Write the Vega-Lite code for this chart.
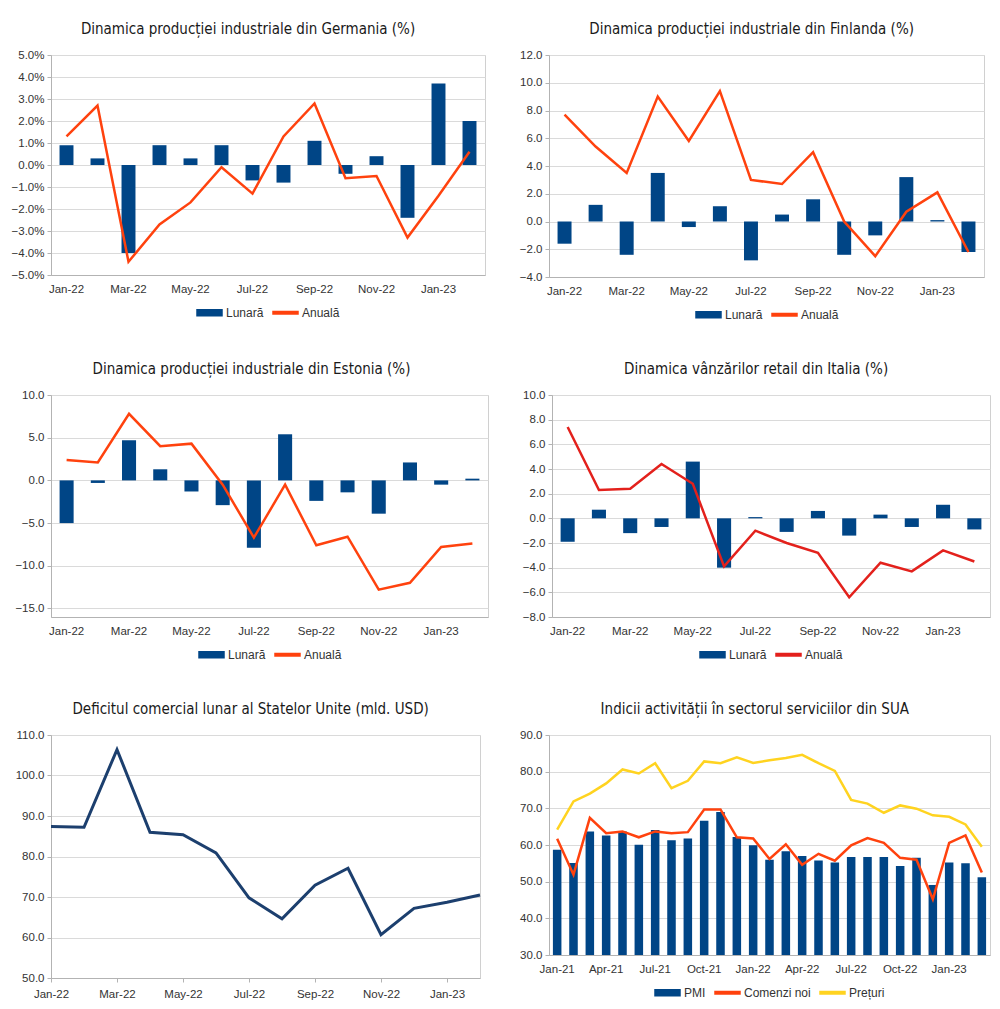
{
  "$schema": "https://vega.github.io/schema/vega-lite/v6.json",
  "padding": {"left": 10, "top": 21, "right": 5, "bottom": 5},
  "background": "white",
  "config": {
    "font": "Liberation Sans",
    "view": {"stroke": "#d0d0d0"},
    "axis": {"labelFont": "Liberation Sans", "labelFontSize": 11.5, "labelColor": "#333333", "gridColor": "#dadada", "domainColor": "#b3b3b3", "tickColor": "#b3b3b3", "title": null, "labelOverlap": false},
    "axisX": {"grid": false, "ticks": false, "labelAngle": 0, "labelPadding": 8},
    "axisY": {"tickSize": 4, "labelPadding": 3},
    "title": {"font": "DejaVu Sans Condensed", "fontSize": 15, "fontWeight": "normal", "color": "#1a1a1a", "frame": "bounds", "offset": 12},
    "legend": {"orient": "bottom", "direction": "horizontal", "title": null, "labelFont": "Liberation Sans", "labelFontSize": 12, "labelColor": "#333333", "symbolSize": 625, "symbolType": "M-1,-0.24L1,-0.24L1,0.24L-1,0.24Z", "labelOffset": 3, "columnPadding": 6, "offset": 4, "layout": {"bottom": {"anchor": "middle"}}}
  },
  "datasets": {
    "ger": [
      {"luna": "Jan-22", "lunara": 0.9, "anuala": 1.3},
      {"luna": "Feb-22", "lunara": 0.3, "anuala": 2.7},
      {"luna": "Mar-22", "lunara": -4.0, "anuala": -4.4},
      {"luna": "Apr-22", "lunara": 0.9, "anuala": -2.7},
      {"luna": "May-22", "lunara": 0.3, "anuala": -1.7},
      {"luna": "Jun-22", "lunara": 0.9, "anuala": -0.1},
      {"luna": "Jul-22", "lunara": -0.7, "anuala": -1.3},
      {"luna": "Aug-22", "lunara": -0.8, "anuala": 1.3},
      {"luna": "Sep-22", "lunara": 1.1, "anuala": 2.8},
      {"luna": "Oct-22", "lunara": -0.4, "anuala": -0.6},
      {"luna": "Nov-22", "lunara": 0.4, "anuala": -0.5},
      {"luna": "Dec-22", "lunara": -2.4, "anuala": -3.3},
      {"luna": "Jan-23", "lunara": 3.7, "anuala": -1.4},
      {"luna": "Feb-23", "lunara": 2.0, "anuala": 0.6}
    ],
    "fin": [
      {"luna": "Jan-22", "lunara": -1.6, "anuala": 7.7},
      {"luna": "Feb-22", "lunara": 1.2, "anuala": 5.4},
      {"luna": "Mar-22", "lunara": -2.4, "anuala": 3.5},
      {"luna": "Apr-22", "lunara": 3.5, "anuala": 9.0},
      {"luna": "May-22", "lunara": -0.4, "anuala": 5.8},
      {"luna": "Jun-22", "lunara": 1.1, "anuala": 9.4},
      {"luna": "Jul-22", "lunara": -2.8, "anuala": 3.0},
      {"luna": "Aug-22", "lunara": 0.5, "anuala": 2.7},
      {"luna": "Sep-22", "lunara": 1.6, "anuala": 5.0},
      {"luna": "Oct-22", "lunara": -2.4, "anuala": 0.0},
      {"luna": "Nov-22", "lunara": -1.0, "anuala": -2.5},
      {"luna": "Dec-22", "lunara": 3.2, "anuala": 0.7},
      {"luna": "Jan-23", "lunara": 0.1, "anuala": 2.1},
      {"luna": "Feb-23", "lunara": -2.2, "anuala": -2.2}
    ],
    "est": [
      {"luna": "Jan-22", "lunara": -5.0, "anuala": 2.4},
      {"luna": "Feb-22", "lunara": -0.3, "anuala": 2.1},
      {"luna": "Mar-22", "lunara": 4.7, "anuala": 7.8},
      {"luna": "Apr-22", "lunara": 1.3, "anuala": 4.0},
      {"luna": "May-22", "lunara": -1.3, "anuala": 4.3},
      {"luna": "Jun-22", "lunara": -2.9, "anuala": -0.5},
      {"luna": "Jul-22", "lunara": -7.9, "anuala": -6.7},
      {"luna": "Aug-22", "lunara": 5.4, "anuala": -0.5},
      {"luna": "Sep-22", "lunara": -2.4, "anuala": -7.6},
      {"luna": "Oct-22", "lunara": -1.4, "anuala": -6.6},
      {"luna": "Nov-22", "lunara": -3.9, "anuala": -12.8},
      {"luna": "Dec-22", "lunara": 2.1, "anuala": -12.0},
      {"luna": "Jan-23", "lunara": -0.5, "anuala": -7.8},
      {"luna": "Feb-23", "lunara": 0.2, "anuala": -7.4}
    ],
    "ita": [
      {"luna": "Jan-22", "lunara": -1.9, "anuala": 7.4},
      {"luna": "Feb-22", "lunara": 0.7, "anuala": 2.3},
      {"luna": "Mar-22", "lunara": -1.2, "anuala": 2.4},
      {"luna": "Apr-22", "lunara": -0.7, "anuala": 4.4},
      {"luna": "May-22", "lunara": 4.6, "anuala": 2.8},
      {"luna": "Jun-22", "lunara": -4.0, "anuala": -3.9},
      {"luna": "Jul-22", "lunara": 0.1, "anuala": -1.0},
      {"luna": "Aug-22", "lunara": -1.1, "anuala": -2.0},
      {"luna": "Sep-22", "lunara": 0.6, "anuala": -2.8},
      {"luna": "Oct-22", "lunara": -1.4, "anuala": -6.4},
      {"luna": "Nov-22", "lunara": 0.3, "anuala": -3.6},
      {"luna": "Dec-22", "lunara": -0.7, "anuala": -4.3},
      {"luna": "Jan-23", "lunara": 1.1, "anuala": -2.6},
      {"luna": "Feb-23", "lunara": -0.9, "anuala": -3.5}
    ],
    "usa": [
      {"luna": "Jan-22", "deficit": 87.4},
      {"luna": "Feb-22", "deficit": 87.2},
      {"luna": "Mar-22", "deficit": 106.4},
      {"luna": "Apr-22", "deficit": 86.0},
      {"luna": "May-22", "deficit": 85.4},
      {"luna": "Jun-22", "deficit": 80.9},
      {"luna": "Jul-22", "deficit": 69.8},
      {"luna": "Aug-22", "deficit": 64.6},
      {"luna": "Sep-22", "deficit": 72.9},
      {"luna": "Oct-22", "deficit": 77.1},
      {"luna": "Nov-22", "deficit": 60.7},
      {"luna": "Dec-22", "deficit": 67.2},
      {"luna": "Jan-23", "deficit": 68.7},
      {"luna": "Feb-23", "deficit": 70.5}
    ],
    "sua": [
      {"luna": "Jan-21", "pmi": 58.7, "comenzi": 61.7, "preturi": 64.2},
      {"luna": "Feb-21", "pmi": 55.1, "comenzi": 51.9, "preturi": 71.9},
      {"luna": "Mar-21", "pmi": 63.7, "comenzi": 67.4, "preturi": 74.0},
      {"luna": "Apr-21", "pmi": 62.6, "comenzi": 63.2, "preturi": 76.8},
      {"luna": "May-21", "pmi": 63.7, "comenzi": 63.7, "preturi": 80.6},
      {"luna": "Jun-21", "pmi": 60.1, "comenzi": 62.1, "preturi": 79.5},
      {"luna": "Jul-21", "pmi": 64.1, "comenzi": 63.7, "preturi": 82.3},
      {"luna": "Aug-21", "pmi": 61.3, "comenzi": 63.2, "preturi": 75.5},
      {"luna": "Sep-21", "pmi": 61.8, "comenzi": 63.5, "preturi": 77.5},
      {"luna": "Oct-21", "pmi": 66.6, "comenzi": 69.7, "preturi": 82.8},
      {"luna": "Nov-21", "pmi": 69.0, "comenzi": 69.7, "preturi": 82.3},
      {"luna": "Dec-21", "pmi": 62.2, "comenzi": 62.1, "preturi": 83.9},
      {"luna": "Jan-22", "pmi": 59.9, "comenzi": 61.8, "preturi": 82.4},
      {"luna": "Feb-22", "pmi": 56.0, "comenzi": 56.2, "preturi": 83.1},
      {"luna": "Mar-22", "pmi": 58.3, "comenzi": 60.2, "preturi": 83.7},
      {"luna": "Apr-22", "pmi": 57.0, "comenzi": 54.6, "preturi": 84.6},
      {"luna": "May-22", "pmi": 55.8, "comenzi": 57.6, "preturi": 82.3},
      {"luna": "Jun-22", "pmi": 55.2, "comenzi": 55.7, "preturi": 80.2},
      {"luna": "Jul-22", "pmi": 56.7, "comenzi": 59.9, "preturi": 72.3},
      {"luna": "Aug-22", "pmi": 56.7, "comenzi": 61.9, "preturi": 71.3},
      {"luna": "Sep-22", "pmi": 56.7, "comenzi": 60.6, "preturi": 68.8},
      {"luna": "Oct-22", "pmi": 54.3, "comenzi": 56.5, "preturi": 70.8},
      {"luna": "Nov-22", "pmi": 56.5, "comenzi": 56.0, "preturi": 69.9},
      {"luna": "Dec-22", "pmi": 49.1, "comenzi": 45.2, "preturi": 68.1},
      {"luna": "Jan-23", "pmi": 55.2, "comenzi": 60.6, "preturi": 67.7},
      {"luna": "Feb-23", "pmi": 55.0, "comenzi": 62.6, "preturi": 65.6},
      {"luna": "Mar-23", "pmi": 51.2, "comenzi": 52.5, "preturi": 59.5}
    ]
  },
  "resolve": {"scale": {"color": "independent"}, "legend": {"color": "independent"}},
  "spacing": 39,
  "vconcat": [
    {
      "spacing": 32,
      "resolve": {"scale": {"color": "independent"}, "legend": {"color": "independent"}},
      "hconcat": [
        {
          "width": 434, "height": 220,
          "title": {"text": "Dinamica producției industriale din Germania (%)"},
          "data": {"name": "ger"},
          "encoding": {"x": {"field": "luna", "type": "ordinal", "sort": null, "axis": {"values": ["Jan-22", "Mar-22", "May-22", "Jul-22", "Sep-22", "Nov-22", "Jan-23"]}}},
          "layer": [
            {"mark": {"type": "bar", "width": {"band": 0.5}},
             "encoding": {
               "y": {"field": "lunara", "type": "quantitative", "scale": {"domain": [-5, 5]}, "axis": {"values": [-5, -4, -3, -2, -1, 0, 1, 2, 3, 4, 5], "labelExpr": "format(datum.value, '.1f') + '%'", "labelOverlap": false}},
               "color": {"datum": "Lunară", "type": "nominal", "scale": {"domain": ["Lunară", "Anuală"], "range": ["#004586", "#ff420e"]},
                 "legend": {"encode": {"symbols": {"update": {"shape": {"signal": "datum.value === 'Lunară' ? 'M-1,-0.24L1,-0.24L1,0.24L-1,0.24Z' : 'M-1,-0.1L1,-0.1L1,0.1L-1,0.1Z'"}, "fill": {"signal": "datum.value === 'Lunară' ? '#004586' : '#ff420e'"}, "stroke": {"value": "transparent"}, "opacity": {"value": 1}}}}}}
             }},
            {"mark": {"type": "line", "strokeWidth": 2.5},
             "encoding": {"y": {"field": "anuala", "type": "quantitative", "axis": {"values": [-5, -4, -3, -2, -1, 0, 1, 2, 3, 4, 5], "labelExpr": "format(datum.value, '.1f') + '%'", "labelOverlap": false}}, "color": {"datum": "Anuală", "type": "nominal"}}}
          ]
        },
        {
          "width": 435, "height": 222,
          "title": {"text": "Dinamica producției industriale din Finlanda (%)"},
          "data": {"name": "fin"},
          "encoding": {"x": {"field": "luna", "type": "ordinal", "sort": null, "axis": {"values": ["Jan-22", "Mar-22", "May-22", "Jul-22", "Sep-22", "Nov-22", "Jan-23"]}}},
          "layer": [
            {"mark": {"type": "bar", "width": {"band": 0.5}},
             "encoding": {
               "y": {"field": "lunara", "type": "quantitative", "scale": {"domain": [-4, 12]}, "axis": {"values": [-4, -2, 0, 2, 4, 6, 8, 10, 12], "format": ".1f", "labelOverlap": false}},
               "color": {"datum": "Lunară", "type": "nominal", "scale": {"domain": ["Lunară", "Anuală"], "range": ["#004586", "#ff420e"]},
                 "legend": {"encode": {"symbols": {"update": {"shape": {"signal": "datum.value === 'Lunară' ? 'M-1,-0.24L1,-0.24L1,0.24L-1,0.24Z' : 'M-1,-0.1L1,-0.1L1,0.1L-1,0.1Z'"}, "fill": {"signal": "datum.value === 'Lunară' ? '#004586' : '#ff420e'"}, "stroke": {"value": "transparent"}, "opacity": {"value": 1}}}}}}
             }},
            {"mark": {"type": "line", "strokeWidth": 2.5},
             "encoding": {"y": {"field": "anuala", "type": "quantitative", "axis": {"values": [-4, -2, 0, 2, 4, 6, 8, 10, 12], "format": ".1f", "labelOverlap": false}}, "color": {"datum": "Anuală", "type": "nominal"}}}
          ]
        }
      ]
    },
    {
      "spacing": 32,
      "resolve": {"scale": {"color": "independent"}, "legend": {"color": "independent"}},
      "hconcat": [
        {
          "width": 437, "height": 222,
          "title": {"text": "Dinamica producției industriale din Estonia (%)"},
          "data": {"name": "est"},
          "encoding": {"x": {"field": "luna", "type": "ordinal", "sort": null, "axis": {"values": ["Jan-22", "Mar-22", "May-22", "Jul-22", "Sep-22", "Nov-22", "Jan-23"]}}},
          "layer": [
            {"mark": {"type": "bar", "width": {"band": 0.5}},
             "encoding": {
               "y": {"field": "lunara", "type": "quantitative", "scale": {"domain": [-15, 10]}, "axis": {"values": [-15, -10, -5, 0, 5, 10], "format": ".1f", "labelOverlap": false}},
               "color": {"datum": "Lunară", "type": "nominal", "scale": {"domain": ["Lunară", "Anuală"], "range": ["#004586", "#ff420e"]},
                 "legend": {"encode": {"symbols": {"update": {"shape": {"signal": "datum.value === 'Lunară' ? 'M-1,-0.24L1,-0.24L1,0.24L-1,0.24Z' : 'M-1,-0.1L1,-0.1L1,0.1L-1,0.1Z'"}, "fill": {"signal": "datum.value === 'Lunară' ? '#004586' : '#ff420e'"}, "stroke": {"value": "transparent"}, "opacity": {"value": 1}}}}}}
             }},
            {"mark": {"type": "line", "strokeWidth": 2.5},
             "encoding": {"y": {"field": "anuala", "type": "quantitative", "axis": {"values": [-15, -10, -5, 0, 5, 10], "format": ".1f", "labelOverlap": false}}, "color": {"datum": "Anuală", "type": "nominal"}}}
          ]
        },
        {
          "width": 438, "height": 222,
          "title": {"text": "Dinamica vânzărilor retail din Italia (%)"},
          "data": {"name": "ita"},
          "encoding": {"x": {"field": "luna", "type": "ordinal", "sort": null, "axis": {"values": ["Jan-22", "Mar-22", "May-22", "Jul-22", "Sep-22", "Nov-22", "Jan-23"]}}},
          "layer": [
            {"mark": {"type": "bar", "width": {"band": 0.5}},
             "encoding": {
               "y": {"field": "lunara", "type": "quantitative", "scale": {"domain": [-8, 10]}, "axis": {"values": [-8, -6, -4, -2, 0, 2, 4, 6, 8, 10], "format": ".1f", "labelOverlap": false}},
               "color": {"datum": "Lunară", "type": "nominal", "scale": {"domain": ["Lunară", "Anuală"], "range": ["#004586", "#e3211c"]},
                 "legend": {"encode": {"symbols": {"update": {"shape": {"signal": "datum.value === 'Lunară' ? 'M-1,-0.24L1,-0.24L1,0.24L-1,0.24Z' : 'M-1,-0.1L1,-0.1L1,0.1L-1,0.1Z'"}, "fill": {"signal": "datum.value === 'Lunară' ? '#004586' : '#ff420e'"}, "stroke": {"value": "transparent"}, "opacity": {"value": 1}}}}}}
             }},
            {"mark": {"type": "line", "strokeWidth": 2.5},
             "encoding": {"y": {"field": "anuala", "type": "quantitative", "axis": {"values": [-8, -6, -4, -2, 0, 2, 4, 6, 8, 10], "format": ".1f", "labelOverlap": false}}, "color": {"datum": "Anuală", "type": "nominal"}}}
          ]
        }
      ]
    },
    {
      "spacing": 32,
      "resolve": {"scale": {"color": "independent"}, "legend": {"color": "independent"}},
      "hconcat": [
        {
          "width": 429, "height": 243,
          "title": {"text": "Deficitul comercial lunar al Statelor Unite (mld. USD)"},
          "data": {"name": "usa"},
          "mark": {"type": "line", "strokeWidth": 3, "color": "#1c3f6e"},
          "encoding": {
            "x": {"field": "luna", "type": "ordinal", "sort": null, "scale": {"type": "point", "padding": 0}, "axis": {"values": ["Jan-22", "Mar-22", "May-22", "Jul-22", "Sep-22", "Nov-22", "Jan-23"], "ticks": true, "tickSize": 4, "labelPadding": 6}},
            "y": {"field": "deficit", "type": "quantitative", "scale": {"domain": [50, 110]}, "axis": {"values": [50, 60, 70, 80, 90, 100, 110], "format": ".1f"}}
          }
        },
        {
          "width": 441, "height": 220,
          "title": {"text": "Indicii activității în sectorul serviciilor din SUA"},
          "data": {"name": "sua"},
          "encoding": {"x": {"field": "luna", "type": "ordinal", "sort": null, "axis": {"values": ["Jan-21", "Apr-21", "Jul-21", "Oct-21", "Jan-22", "Apr-22", "Jul-22", "Oct-22", "Jan-23"]}}},
          "layer": [
            {"mark": {"type": "bar", "width": {"band": 0.58}, "clip": true},
             "encoding": {
               "y": {"field": "pmi", "type": "quantitative", "scale": {"domain": [30, 90], "zero": false}, "axis": {"values": [30, 40, 50, 60, 70, 80, 90], "format": ".1f", "labelOverlap": false}},
               "y2": {"datum": 30},
               "color": {"datum": "PMI", "type": "nominal", "scale": {"domain": ["PMI", "Comenzi noi", "Prețuri"], "range": ["#004586", "#ff420e", "#ffd320"]},
                 "legend": {"encode": {"symbols": {"update": {"shape": {"signal": "datum.value === 'PMI' ? 'M-1,-0.24L1,-0.24L1,0.24L-1,0.24Z' : 'M-1,-0.1L1,-0.1L1,0.1L-1,0.1Z'"}, "fill": {"signal": "datum.value === 'PMI' ? '#004586' : datum.value === 'Comenzi noi' ? '#ff420e' : '#ffd320'"}, "stroke": {"value": "transparent"}, "opacity": {"value": 1}}}}}}
             }},
            {"mark": {"type": "line", "strokeWidth": 2.5},
             "encoding": {"y": {"field": "comenzi", "type": "quantitative", "axis": {"values": [30, 40, 50, 60, 70, 80, 90], "format": ".1f", "labelOverlap": false}}, "color": {"datum": "Comenzi noi", "type": "nominal"}}},
            {"mark": {"type": "line", "strokeWidth": 2.5},
             "encoding": {"y": {"field": "preturi", "type": "quantitative", "axis": {"values": [30, 40, 50, 60, 70, 80, 90], "format": ".1f", "labelOverlap": false}}, "color": {"datum": "Prețuri", "type": "nominal"}}}
          ]
        }
      ]
    }
  ]
}
